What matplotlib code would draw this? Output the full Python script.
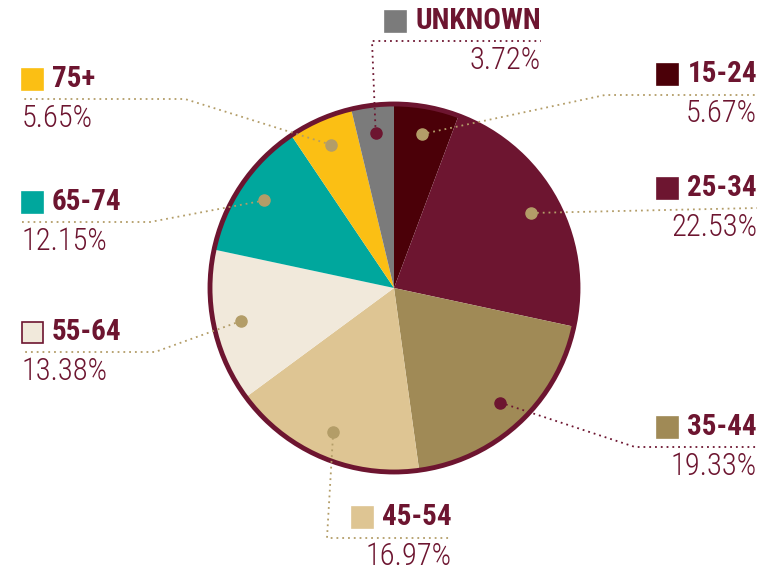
import numpy as np
import matplotlib
matplotlib.use('Agg')
import matplotlib.pyplot as plt
from matplotlib import font_manager
from matplotlib.patches import Circle, Rectangle

W, H = 765, 572

labels = ['15-24', '25-34', '35-44', '45-54', '55-64', '65-74', '75+', 'UNKNOWN']
shares = [5.67, 22.53, 19.33, 16.97, 13.38, 12.15, 5.65, 3.72]
colors = ['#4b0008', '#6d1530', '#a08a56', '#dec593', '#f1e9db', '#00a79d',
          '#fbbf14', '#7b7b7b']

MAROON = '#6d1530'
TAN = '#b39d68'
dot_colors = [TAN, TAN, MAROON, TAN, TAN, TAN, TAN, MAROON]

# leader line bends (pixel coords, y down) and label anchors
bends = [[(605, 95), (757, 95)],
         [(757, 208)],
         [(635, 447), (757, 447)],
         [(327, 538), (452, 538)],
         [(155, 352), (22, 352)],
         [(150, 222), (22, 222)],
         [(185, 99), (22, 99)],
         [(372, 41), (541, 41)]]
# (x, y, side) : side 'r' -> right aligned at x, 'l' -> left aligned at x
anchors = [(757, 94, 'r'), (757, 208, 'r'), (757, 447, 'r'), (452, 537, 'r'),
           (22, 352, 'l'), (22, 222, 'l'), (22, 99, 'l'), (541, 41, 'r')]

names = {f.name for f in font_manager.fontManager.ttflist}
family = 'Roboto'
for cand in ['Roboto Condensed', 'Liberation Sans Narrow', 'Roboto']:
    if cand in names:
        family = cand
        break

fig = plt.figure(figsize=(W / 100, H / 100), dpi=100)
ax = fig.add_axes([0, 0, 1, 1])
ax.set_xlim(0, W)
ax.set_ylim(0, H)
ax.set_aspect('equal')
ax.axis('off')

cx, cy, r = 394, H - 288, 184

wedges, _ = ax.pie(shares, colors=colors, startangle=90, counterclock=False,
                   center=(cx, cy), radius=r, frame=True,
                   wedgeprops=dict(linewidth=0))
ax.set_xlim(0, W)
ax.set_ylim(0, H)
ax.axis('off')
ax.add_patch(Circle((cx, cy), r, fill=False, edgecolor=MAROON, linewidth=3.5,
                    zorder=3))

for i, w in enumerate(wedges):
    mid = np.deg2rad((w.theta1 + w.theta2) / 2)
    dx = cx + 0.85 * r * np.cos(mid)
    dy = cy + 0.85 * r * np.sin(mid)
    pts = [(dx, dy)] + [(x, H - y) for x, y in bends[i]]
    xs, ys = zip(*pts)
    ax.plot(xs, ys, linestyle=(0, (1, 2.2)), color=dot_colors[i],
            linewidth=1.3, zorder=4)
    ax.plot(dx, dy, 'o', markersize=8, color=dot_colors[i], zorder=5)

    x, y, side = anchors[i]
    y = H - y
    if side == 'r':
        t = ax.text(x, y + 6, labels[i], ha='right', va='bottom',
                    fontsize=21, fontweight='bold', color=MAROON,
                    family=family)
        fig.canvas.draw()
        bb = t.get_window_extent().transformed(ax.transData.inverted())
        sq_x = bb.x0 - 30
        ax.text(x, y - 5, f'{shares[i]:.2f}%', ha='right', va='top',
                fontsize=22, color=MAROON, family=family, fontweight='light')
    else:
        sq_x = x
        ax.text(x + 30, y + 6, labels[i], ha='left', va='bottom',
                fontsize=21, fontweight='bold', color=MAROON, family=family)
        ax.text(x, y - 5, f'{shares[i]:.2f}%', ha='left', va='top',
                fontsize=22, color=MAROON, family=family, fontweight='light')
    ax.add_patch(Rectangle((sq_x, y + 9), 21, 21, facecolor=colors[i],
                           edgecolor=MAROON if i == 4 else colors[i],
                           linewidth=1.2))

fig.savefig('out.png', dpi=100)
